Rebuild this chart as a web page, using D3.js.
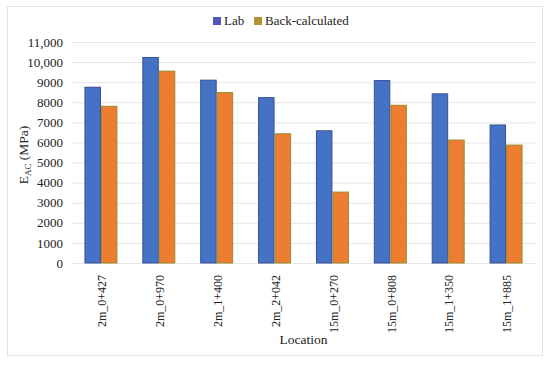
<!DOCTYPE html>
<html>
<head>
<meta charset="utf-8">
<script src="https://cdn.jsdelivr.net/npm/d3@7"></script>
<style>
    body { margin: 0; background: #fff; }
</style>
</head>
<body>
<svg id="chart" width="550" height="367"></svg>
<script>
// data
const locations    = ["2m_0+427", "2m_0+970", "2m_1+400", "2m_2+042",
                      "15m_0+270", "15m_0+808", "15m_1+350", "15m_1+885"];
const labValues    = [8750, 10230, 9100, 8230, 6580, 9080, 8420, 6870];
const backValues   = [7800, 9550, 8480, 6430, 3530, 7850, 6120, 5870];
const seriesNames  = ["Lab", "Back-calculated"];
const yTicks       = [0, 1000, 2000, 3000, 4000, 5000, 6000, 7000, 8000, 9000, 10000, 11000];

const FONT = '"Liberation Serif", "Times New Roman", serif';

const svg = d3.select("#chart");

var margin = { top: 42, left: 72, right: 15, bottom: 104 };
var innerWidth  = 550 - margin.left - margin.right;
var innerHeight = 367 - margin.top - margin.bottom;

// outer frame
svg.append("rect")
    .attr("x", 7.5).attr("y", 6.5)
    .attr("width", 535).attr("height", 349)
    .attr("fill", "none")
    .attr("stroke", "#e2e2e2");

const chart = svg.append("g")
    .attr("transform", `translate(${margin.left},${margin.top})`);

const x = d3.scaleBand()
    .domain(locations)
    .range([0, innerWidth])
    .paddingInner(0.43)
    .paddingOuter(0.215);

const x1 = d3.scaleBand()
    .domain(seriesNames)
    .range([0, x.bandwidth()]);

const y = d3.scaleLinear()
    .domain([0, 11000])
    .range([innerHeight, 0]);

const fmt = d => d >= 10000 ? d3.format(",")(d) : String(d);

// gridlines + y axis
const yAxis = chart.append("g")
    .call(d3.axisLeft(y).tickValues(yTicks).tickFormat(fmt)
        .tickSize(-innerWidth).tickPadding(9));
yAxis.select(".domain").remove();
yAxis.selectAll("line").attr("stroke", "#e6e6e6");
yAxis.selectAll("text")
    .style("font-family", FONT)
    .style("font-size", "13px")
    .attr("fill", "#222");

// bars
const groups = chart.selectAll(".grp")
    .data(locations.map((loc, i) => ({ loc, vals: [labValues[i], backValues[i]] })))
    .enter().append("g")
    .attr("class", "grp")
    .attr("transform", d => `translate(${x(d.loc)},0)`);

const fills   = ["#4472c4", "#ed7d31"];
const strokes = ["#3b4f94", "#9c8a2a"];

groups.selectAll("rect")
    .data(d => d.vals.map((v, j) => ({ v, name: seriesNames[j], j })))
    .enter().append("rect")
    .attr("x", d => x1(d.name) + 0.5)
    .attr("width", x1.bandwidth() - 1)
    .attr("y", d => y(d.v))
    .attr("height", d => innerHeight - y(d.v))
    .attr("fill", d => fills[d.j])
    .attr("stroke", d => strokes[d.j])
    .attr("stroke-width", 1);

// x axis labels (rotated)
const xAxis = chart.append("g")
    .attr("transform", `translate(0,${innerHeight})`)
    .call(d3.axisBottom(x).tickSize(0).tickPadding(0));
xAxis.select(".domain").remove();
xAxis.selectAll("text")
    .style("font-family", FONT)
    .style("font-size", "12px")
    .attr("fill", "#222")
    .attr("transform", "rotate(-90)")
    .attr("text-anchor", "end")
    .attr("x", -12)
    .attr("y", 1)
    .attr("dy", "0.35em");

// axis titles
chart.append("text")
    .attr("x", innerWidth / 2)
    .attr("y", innerHeight + 81)
    .attr("text-anchor", "middle")
    .style("font-family", FONT)
    .style("font-size", "13.5px")
    .attr("fill", "#222")
    .text("Location");

const yTitle = svg.append("text")
    .attr("transform", "translate(28,155) rotate(-90)")
    .attr("text-anchor", "middle")
    .style("font-family", FONT)
    .style("font-size", "13.5px")
    .attr("fill", "#222");
yTitle.append("tspan").text("E");
yTitle.append("tspan").style("font-size", "9px").attr("dy", 3).text("AC");
yTitle.append("tspan").attr("dy", -3).text(" (MPa)");

// legend
const legendColors = ["#4f56bf", "#b3952f"];
const legendX = [213, 254];
const legend = svg.selectAll(".legend")
    .data(seriesNames)
    .enter().append("g")
    .attr("class", "legend")
    .attr("transform", (d, i) => `translate(${legendX[i]},17)`);
legend.append("rect")
    .attr("width", 8).attr("height", 8)
    .attr("fill", (d, i) => legendColors[i]);
legend.append("text")
    .attr("x", 11)
    .attr("y", 8)
    .style("font-family", FONT)
    .style("font-size", "13px")
    .attr("fill", "#222")
    .text(d => d);
</script>
</body>
</html>
